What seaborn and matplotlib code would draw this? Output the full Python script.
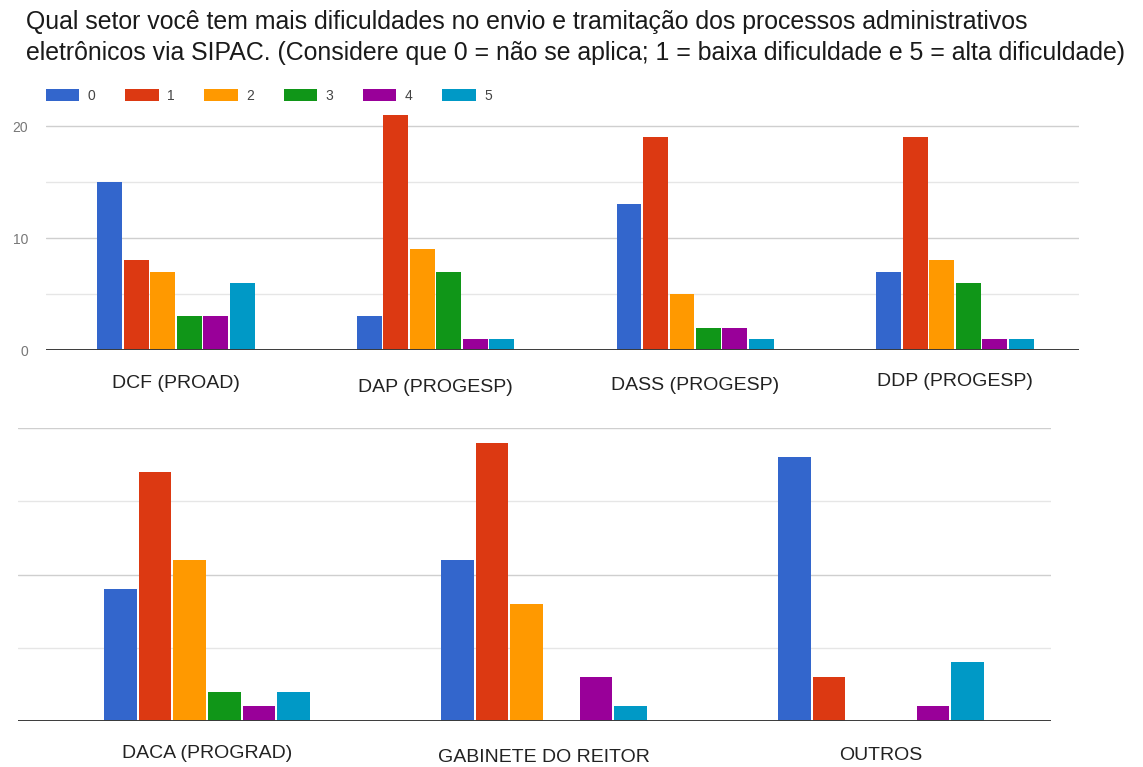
import matplotlib
matplotlib.use("Agg")
import matplotlib.pyplot as plt
from matplotlib.patches import Patch
from matplotlib.ticker import FixedLocator, NullFormatter
import pandas as pd
import seaborn as sns

# ---- data -------------------------------------------------------------
setores_topo = ["DCF (PROAD)", "DAP (PROGESP)", "DASS (PROGESP)", "DDP (PROGESP)"]
setores_base = ["DACA (PROGRAD)", "GABINETE DO REITOR", "OUTROS"]
setores = setores_topo + setores_base
niveis = ["0", "1", "2", "3", "4", "5"]

nivel_0 = [15, 3, 13, 7, 9, 11, 18]
nivel_1 = [8, 21, 19, 19, 17, 19, 3]
nivel_2 = [7, 9, 5, 8, 11, 8, 0]
nivel_3 = [3, 7, 2, 6, 2, 0, 0]
nivel_4 = [3, 1, 2, 1, 1, 3, 1]
nivel_5 = [6, 1, 1, 1, 2, 1, 4]

cores = ["#3366CC", "#DC3912", "#FF9900", "#109618", "#990099", "#0099C6"]

titulo_1 = "Qual setor você tem mais dificuldades no envio e tramitação dos processos administrativos"
titulo_2 = ("eletrônicos via SIPAC. (Considere que 0 = não se aplica; "
            "1 = baixa dificuldade e 5 = alta dificuldade)")

# ---- long table -------------------------------------------------------
series = [nivel_0, nivel_1, nivel_2, nivel_3, nivel_4, nivel_5]
linhas = []
for nivel, valores in zip(niveis, series):
    for setor, v in zip(setores, valores):
        linhas.append({"setor": setor, "nivel": nivel, "n": v})
df = pd.DataFrame(linhas)
df_topo = df[df["setor"].isin(setores_topo)]
df_base = df[df["setor"].isin(setores_base)]

# ---- figure -----------------------------------------------------------
sns.set_theme(style="white")
plt.rcParams["font.family"] = ["Liberation Sans", "DejaVu Sans"]

W, H = 1143, 767
fig = plt.figure(figsize=(W / 100, H / 100), dpi=100)
fig.patch.set_facecolor("white")


def axes_px(left, top, right, bottom):
    return fig.add_axes([left / W, 1 - bottom / H, (right - left) / W, (bottom - top) / H])


ax_topo = axes_px(46, 350 - 22 * 11.2, 1079, 350)
ax_base = axes_px(18, 428, 1051, 721)

sns.barplot(data=df_topo, x="setor", y="n", hue="nivel", order=setores_topo,
            hue_order=niveis, palette=cores, saturation=1, width=0.612, gap=0.06,
            linewidth=0, legend=False, ax=ax_topo, zorder=2)
sns.barplot(data=df_base, x="setor", y="n", hue="nivel", order=setores_base,
            hue_order=niveis, palette=cores, saturation=1, width=0.617, gap=0.06,
            linewidth=0, legend=False, ax=ax_base, zorder=2)

ax_topo.set_ylim(0, 22)
ax_topo.set_xlim(-0.50, 3.478)
ax_base.set_ylim(0, 20)
ax_base.set_xlim(-0.561, 2.504)

for ax in (ax_topo, ax_base):
    ax.set_xlabel("")
    ax.set_ylabel("")
    for s in ax.spines.values():
        s.set_visible(False)
    ax.set_axisbelow(True)
    ax.yaxis.set_major_locator(FixedLocator([0, 10, 20]))
    ax.yaxis.set_minor_locator(FixedLocator([5, 15]))
    ax.grid(axis="y", which="major", color="#cfcfcf", lw=1.0)
    ax.grid(axis="y", which="minor", color="#e6e6e6", lw=1.0)
    ax.grid(axis="x", visible=False)
    ax.axhline(0, color="#3a3a3a", lw=1.4, zorder=3)
    ax.tick_params(axis="x", length=0, labelsize=14, labelcolor="#222222")
    ax.tick_params(axis="y", which="both", length=0)

ax_topo.tick_params(axis="y", labelsize=10, labelcolor="#777777", pad=13)
ax_base.yaxis.set_major_formatter(NullFormatter())

# staggered category labels (offsets in pixels below the baseline)
for ax, desloc in ((ax_topo, [34, 38, 36, 32]), (ax_base, [33, 36, 35])):
    for tick, d in zip(ax.xaxis.get_major_ticks(), desloc):
        tick.set_pad(d * 0.72)
        tick.label1.set_va("center")

# ---- legend -----------------------------------------------------------
alcas = [Patch(facecolor=c, edgecolor="none", label=n) for c, n in zip(cores, niveis)]
fig.legend(handles=alcas, loc="upper left", bbox_to_anchor=(46 / W, 1 - 89 / H),
           ncol=6, frameon=False, fontsize=10, handlelength=2.4, handleheight=0.95,
           handletextpad=0.6, columnspacing=2.15, borderpad=0, borderaxespad=0,
           labelcolor="#444444")

# ---- title ------------------------------------------------------------
t1 = fig.text(26 / W, 1 - 29 / H, titulo_1, fontsize=16, color="#1a1a1a",
              ha="left", va="baseline")
t2 = fig.text(26 / W, 1 - 60 / H, titulo_2, fontsize=16, color="#1a1a1a",
              ha="left", va="baseline")
fig.canvas.draw()
largura = t2.get_window_extent().width
tam = 16 * 1107 / largura
t1.set_fontsize(tam)
t2.set_fontsize(tam)

fig.savefig("out.png", dpi=100)
